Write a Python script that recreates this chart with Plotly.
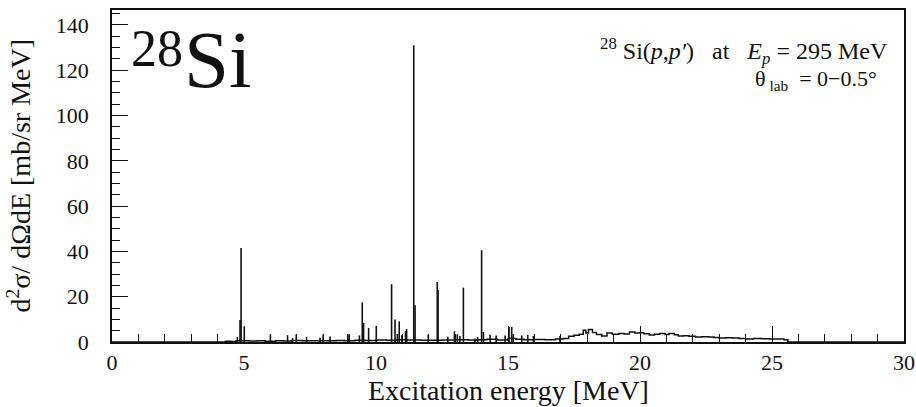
import plotly.graph_objects as go

# ---- data ----
# smooth/continuum part of the spectrum (MeV, mb/sr MeV)
cont_energy = [0.0, 4.2, 4.3, 4.5, 4.7, 5.2, 5.5, 5.8, 6.2, 6.5, 6.8, 7.2, 7.6, 8.0, 8.5, 8.8,
               9.2, 9.6, 10.0, 10.4, 10.8, 11.2, 11.7, 12.0, 12.5, 13.0, 13.5, 13.9, 14.2, 14.6,
               15.0, 15.3, 15.6, 16.0, 16.4, 16.8, 17.1, 17.3, 17.5, 17.7, 17.85, 17.95, 18.05,
               18.2, 18.35, 18.55, 18.75, 18.95, 19.2, 19.4, 19.6, 19.8, 20.0, 20.15, 20.35,
               20.55, 20.75, 20.95, 21.1, 21.3, 21.45, 21.65, 21.85, 22.1, 22.35, 22.6, 22.8,
               23.0, 23.25, 23.5, 23.75, 24.0, 24.3, 24.6, 24.9, 25.2, 25.45, 25.6, 30.0]
cont_value = [0.0, 0.0, 0.3, 0.2, 0.5, 0.4, 0.6, 0.3, 0.5, 0.4, 0.7, 0.5, 0.6, 0.5, 0.7, 0.6,
              0.8, 0.7, 0.9, 0.8, 1.0, 0.9, 0.8, 0.8, 0.9, 1.0, 0.9, 1.0, 1.2, 0.9,
              1.5, 1.2, 1.0, 1.1, 1.0, 1.3, 1.5, 2.5, 3.0, 3.4, 5.2, 4.0, 5.5,
              4.2, 3.3, 2.7, 4.0, 3.4, 3.7, 3.5, 4.4, 4.0, 4.1, 3.6, 3.1,
              3.4, 3.7, 3.3, 3.7, 3.2, 2.7, 2.8, 2.5, 2.2, 2.3, 2.2, 2.0,
              1.8, 1.9, 1.8, 1.5, 1.3, 1.5, 1.4, 1.3, 1.3, 1.0, 0.0, 0.0]

# narrow peaks (MeV, mb/sr MeV)
peak_energy = [4.75, 4.85, 4.89, 5.01, 6.0, 6.65, 6.84, 6.98, 7.37, 7.88, 8.0, 8.26, 8.93, 8.98,
               9.37, 9.48, 9.53, 9.72, 10.01, 10.59, 10.72, 10.81, 10.88, 10.98, 11.12, 11.16,
               11.43, 11.48, 11.98, 12.32, 12.35, 12.72, 12.97, 13.08, 13.18, 13.31, 13.75, 13.85,
               14.0, 14.07, 14.32, 14.55, 14.89, 15.04, 15.14, 15.2, 15.52, 15.75, 15.96, 16.97]
peak_height = [2.3, 9.7, 41.5, 6.8, 3.3, 3.0, 1.7, 3.3, 2.3, 1.9, 3.3, 2.4, 3.5, 3.0,
               2.9, 17.5, 8.4, 6.2, 7.1, 25.5, 9.9, 3.5, 9.1, 3.0, 4.8, 5.7,
               131.0, 16.2, 3.3, 26.5, 23.0, 2.3, 4.7, 3.4, 2.6, 24.0, 1.6, 2.2,
               40.5, 4.4, 3.2, 2.9, 2.9, 6.6, 6.6, 3.5, 2.9, 3.2, 2.6, 2.6]

x_range = [0, 30]
y_range = [0, 146.6]
x_ticks = [0, 5, 10, 15, 20, 25, 30]
y_ticks = [0, 20, 40, 60, 80, 100, 120, 140]

FONT = "Liberation Serif"
INK = "#111111"
SP = "\u00a0"

# build vertical spike segments for the peaks
spike_x, spike_y = [], []
for e, h in zip(peak_energy, peak_height):
    spike_x += [e, e, None]
    spike_y += [0, h, None]

fig = go.Figure()
fig.add_trace(go.Scatter(x=cont_energy, y=cont_value, mode="lines",
                         line=dict(color=INK, width=1.5, shape="hv"),
                         hoverinfo="skip", showlegend=False))
fig.add_trace(go.Scatter(x=spike_x, y=spike_y, mode="lines",
                         line=dict(color=INK, width=1.6),
                         hoverinfo="skip", showlegend=False))

axis_common = dict(showline=True, linecolor=INK, linewidth=1.5, mirror=True,
                   showgrid=False, zeroline=False, ticks="inside", tickcolor=INK,
                   tickwidth=1.2, automargin=False,
                   tickfont=dict(family=FONT, size=22, color=INK))

fig.update_xaxes(range=x_range, tickvals=x_ticks, ticklen=16,
                 minor=dict(ticks="inside", dtick=1, ticklen=8, tickcolor=INK, tickwidth=1.2),
                 **axis_common)
fig.update_yaxes(range=y_range, tickvals=y_ticks, ticklen=16, ticklabelstandoff=17,
                 minor=dict(ticks="inside", dtick=5, ticklen=8, tickcolor=INK, tickwidth=1.2),
                 **axis_common)

# axis titles
fig.add_annotation(text="Excitation energy [MeV]", xref="paper", yref="paper",
                   x=0.5, y=-0.145, xanchor="center", yanchor="middle", showarrow=False,
                   font=dict(family=FONT, size=28, color=INK))
fig.add_annotation(text="d<sup>2</sup>σ/ dΩdE [mb/sr MeV]", xref="paper", yref="paper",
                   x=-0.118, y=0.5, xanchor="center", yanchor="middle", textangle=-90,
                   showarrow=False, font=dict(family=FONT, size=28, color=INK))

# labels inside the frame
fig.add_annotation(text="28", xref="paper", yref="paper", x=0.022, y=0.975,
                   xanchor="left", yanchor="top", showarrow=False,
                   font=dict(family=FONT, size=52, color=INK))
fig.add_annotation(text="Si", xref="paper", yref="paper", x=0.088, y=0.708,
                   xanchor="left", yanchor="bottom", showarrow=False,
                   font=dict(family=FONT, size=81, color=INK))
line1 = ("<sup>28</sup>" + SP + "Si(<i>p</i>,<i>p′</i>)" + SP * 3 + "at" + SP * 3
         + "<i>E<sub>p</sub></i>" + SP + "=" + SP + "295" + SP + "MeV")
fig.add_annotation(text=line1,
                   xref="paper", yref="paper", x=0.982, y=0.876,
                   xanchor="right", yanchor="middle", showarrow=False,
                   font=dict(family=FONT, size=24, color=INK))
fig.add_annotation(text="θ<sub>" + SP + "lab</sub>" + SP * 2 + "=" + SP + "0−0.5°",
                   xref="paper", yref="paper", x=0.968, y=0.79,
                   xanchor="right", yanchor="middle", showarrow=False,
                   font=dict(family=FONT, size=22, color=INK))

fig.update_layout(width=916, height=407, margin=dict(l=112, r=12, t=10, b=65, autoexpand=False),
                  paper_bgcolor="white", plot_bgcolor="white",
                  font=dict(family=FONT, color=INK))

fig.write_html("out.html", config={"displayModeBar": False},
               post_script="document.body.style.margin='0';document.body.style.padding='0';")
